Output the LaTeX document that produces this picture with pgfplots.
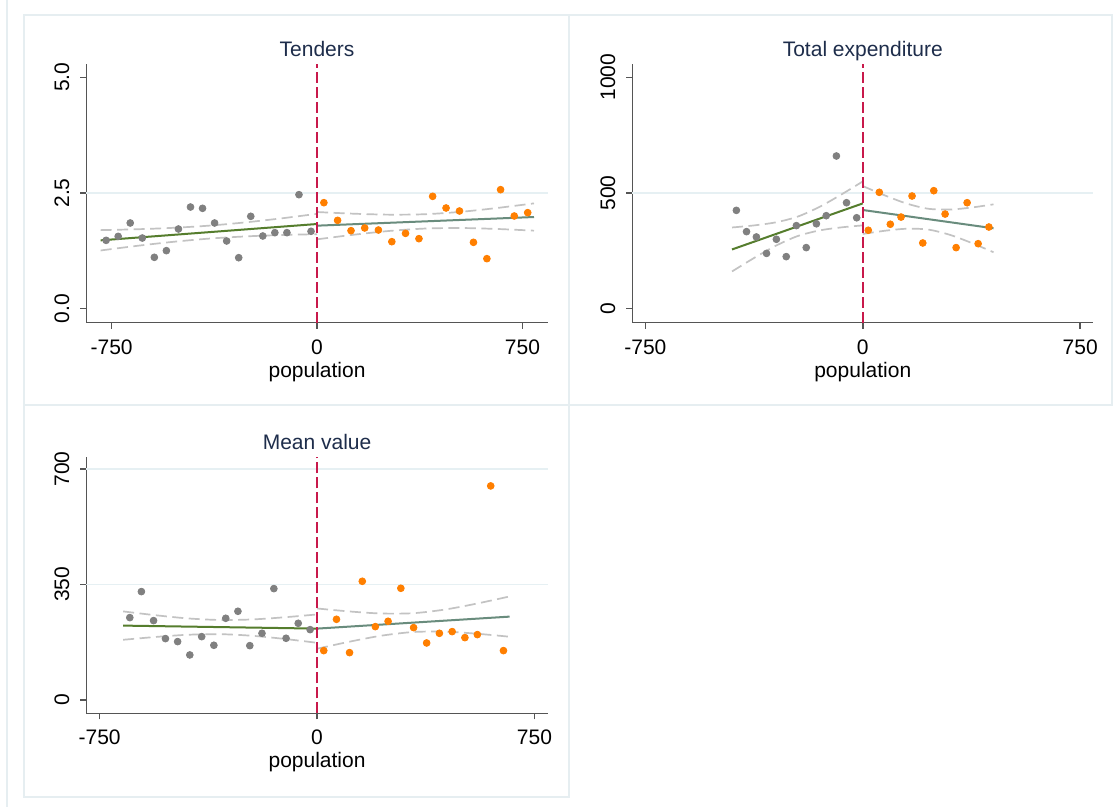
\documentclass[border=0pt]{standalone}
\usepackage{pgfplots}
\pgfplotsset{compat=1.18}
\usepackage{fontspec}
\setmainfont{Liberation Sans}
\newcommand{\tl}{\fontsize{10.5}{12}\selectfont}
\newcommand{\tk}[1]{\mbox{\tl #1}}
\definecolor{axisc}{RGB}{85,85,85}
\definecolor{gridc}{RGB}{230,240,243}
\definecolor{panelc}{RGB}{230,238,241}
\definecolor{ptgrey}{RGB}{128,128,128}
\definecolor{ptorange}{RGB}{255,127,0}
\definecolor{redl}{RGB}{200,25,75}
\definecolor{fitl}{RGB}{85,125,45}
\definecolor{fitr}{RGB}{105,140,125}
\definecolor{cic}{RGB}{195,195,195}
\definecolor{titlec}{RGB}{30,45,75}
\pgfplotsset{
  stata/.style={
    scale only axis, anchor=south west, clip=false,
    axis x line*=bottom, axis y line*=left,
    axis line style={-, draw=axisc, line width=0.75pt},
    tick align=outside, major tick length=3pt,
    tick style={draw=axisc, line width=0.75pt},
    xtick={-750,0,750}, xticklabels={\tk{-750},\tk{0},\tk{750}},
    every tick label/.append style={font=\tl, text=black},
    xticklabel shift=1.8pt, yticklabel shift=2pt,
    yticklabel style={rotate=90, anchor=south},
    xlabel={population},
    xlabel style={at={(axis description cs:0.5,0)}, anchor=base, yshift=-27.2pt, font=\tl},
    title style={at={(axis description cs:0.5,1)}, anchor=base, yshift=-2.35pt, font=\tl, text=titlec},
    extra y tick style={grid=major, major grid style={draw=gridc, line width=0.75pt}, tick style={draw=none}},
    extra y tick labels={},
  },
  gpt/.style={only marks, mark=*, mark size=1.7pt, mark options={draw=ptgrey, fill=ptgrey}},
  opt/.style={only marks, mark=*, mark size=1.7pt, mark options={draw=ptorange, fill=ptorange}},
  ci/.style={no marks, smooth, draw=cic, line width=0.85pt, dash pattern=on 5.5pt off 2.75pt},
  fl/.style={no marks, draw=fitl, line width=1pt},
  fr/.style={no marks, draw=fitr, line width=1pt},
  rl/.style={no marks, draw=redl, line width=1pt, dash pattern=on 5.5pt off 2pt},
}
\begin{document}
\begin{tikzpicture}
\useasboundingbox (0,0) rectangle (556.5pt,403.5pt);
\fill[white] (0,0) rectangle (556.5pt,403.5pt);
\draw[panelc, line width=0.6pt] (3.5pt,0) -- (3.5pt,403.5pt);
\draw[panelc, line width=0.75pt, fill=white] (12pt,201pt) rectangle (284.5pt,396pt);
\draw[panelc, line width=0.75pt, fill=white] (284.5pt,201pt) rectangle (556pt,396pt);
\draw[panelc, line width=0.75pt, fill=white] (12pt,5pt) rectangle (284.5pt,201pt);

% Panel 1: Tenders
\begin{axis}[stata, at={(43.2pt,242.15pt)}, width=230.65pt, height=129.35pt,
  xmin=-842, xmax=842, ymin=-0.3026, ymax=5.288,
  ytick={0,2.5,5}, yticklabels={\tk{0.0},\tk{2.5},\tk{5.0}}, extra y ticks={2.5},
  title={Tenders}]
\addplot[ci] coordinates {(-790,1.698) (-660,1.716) (-530,1.746) (-395,1.794) (-260,1.866) (-130,1.952) (0,2.050)};
\addplot[ci] coordinates {(-790,1.258) (-660,1.356) (-530,1.442) (-395,1.514) (-260,1.562) (-130,1.592) (0,1.610)};
\addplot[ci] coordinates {(0,2.089) (132,2.053) (264,2.032) (396,2.042) (528,2.095) (660,2.178) (792,2.276)};
\addplot[ci] coordinates {(0,1.499) (132,1.597) (264,1.680) (396,1.732) (528,1.743) (660,1.722) (792,1.686)};
\addplot[gpt] coordinates {(-770,1.477) (-726,1.563) (-682,1.852) (-638,1.527) (-594,1.110) (-550,1.254) (-506,1.722) (-462,2.197) (-418,2.169) (-374,1.852) (-330,1.463) (-286,1.102) (-242,1.996) (-198,1.571) (-154,1.643) (-110,1.643) (-66,2.464) (-22,1.672)};
\addplot[opt] coordinates {(25,2.291) (75,1.909) (124,1.686) (174,1.744) (224,1.700) (273,1.448) (323,1.628) (372,1.513) (422,2.428) (471,2.176) (520,2.111) (571,1.434) (620,1.081) (670,2.572) (720,2.003) (769,2.075)};
\addplot[fl] coordinates {(-790,1.477) (0,1.830)};
\addplot[fr] coordinates {(0,1.794) (792,1.981)};
\addplot[rl] coordinates {(0,-0.3026) (0,5.288)};
\end{axis}

% Panel 2: Total expenditure
\begin{axis}[stata, at={(316.15pt,242.15pt)}, width=230.45pt, height=129.35pt,
  xmin=-795, xmax=795, ymin=-60.5, ymax=1057.6,
  ytick={0,500,1000}, yticklabels={\tk{0},\tk{500},\tk{1000}}, extra y ticks={500},
  title={Total expenditure}]
\addplot[ci] coordinates {(-451,351) (-376,359.8) (-301,373) (-225.5,397.5) (-150,439.6) (-75,492.7) (0,550)};
\addplot[ci] coordinates {(-451,161) (-376,218.4) (-301,271.4) (-225.5,313.5) (-150,338) (-75,351.3) (0,360)};
\addplot[ci] coordinates {(0,530) (75,490.2) (150,455) (225.5,432) (301,428.6) (376,437.4) (451,451)};
\addplot[ci] coordinates {(0,323) (75,336.6) (150,345.4) (225.5,342) (301,319) (376,283.8) (451,244)};
\addplot[gpt] coordinates {(-436,425) (-401,333) (-367,310) (-332,239) (-298,300) (-264,225) (-229,359) (-195,264) (-160,367) (-126,402) (-91,660) (-56,458) (-21,393)};
\addplot[opt] coordinates {(19,339) (57,503) (95,365) (132,396) (170,487) (207,284) (245,510) (284,409) (322,264) (360,458) (398,281) (435,353)};
\addplot[fl] coordinates {(-451,256) (0,455)};
\addplot[fr] coordinates {(0,426.5) (451,347.5)};
\addplot[rl] coordinates {(0,-60.5) (0,1057.6)};
\end{axis}

% Panel 3: Mean value
\begin{axis}[stata, at={(43.2pt,46.85pt)}, width=230.65pt, height=128.35pt,
  xmin=-795.7, xmax=795.7, ymin=-40.4, ymax=737.4,
  ytick={0,350,700}, yticklabels={\tk{0},\tk{350},\tk{700}}, extra y ticks={350,700},
  title={Mean value}]
\addplot[ci] coordinates {(-669,268.3) (-557,256.7) (-446,247.1) (-334,242.3) (-223,244.0) (-111,250.6) (0,259.2)};
\addplot[ci] coordinates {(-669,182.3) (-557,190.9) (-446,197.5) (-334,199.3) (-223,194.4) (-111,184.8) (0,173.2)};
\addplot[ci] coordinates {(0,277.2) (111,268.2) (221,262) (332,262.9) (443,274.2) (553,292.4) (664,313.6)};
\addplot[ci] coordinates {(0,155.2) (111,176.4) (221,194.6) (332,205.9) (443,206.8) (553,200.6) (664,191.6)};
\addplot[gpt] coordinates {(-646,249.5) (-606,328.3) (-564,240.4) (-523,185.9) (-481,176.8) (-439,136.4) (-398,191.9) (-356,165.7) (-315,247.5) (-273,268.7) (-232,164.6) (-190,202) (-149,337.4) (-107,186.9) (-65,232.3) (-24,213.1)};
\addplot[opt] coordinates {(23,149.5) (67,244.4) (112,143.4) (156,359.6) (201,222.2) (245,238.4) (289,338.4) (333,219.2) (378,172.7) (422,202) (466,207.1) (510,188.9) (553,198) (599,648.5) (643,149.5)};
\addplot[fl] coordinates {(-669,225.3) (0,216.2)};
\addplot[fr] coordinates {(0,216.2) (664,252.5)};
\addplot[rl] coordinates {(0,-40.4) (0,737.4)};
\end{axis}
\end{tikzpicture}
\end{document}
